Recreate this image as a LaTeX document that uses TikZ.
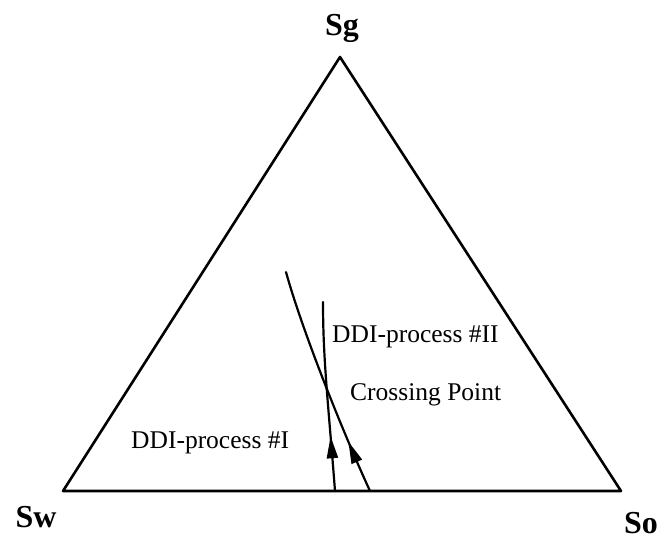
\documentclass[tikz,border=0pt]{standalone}
\usepackage{fontspec}
\setmainfont{Liberation Serif}
\usetikzlibrary{arrows.meta,decorations.markings}
\begin{document}
\begin{tikzpicture}[x=1pt,y=-1pt,line cap=round,line join=round]
    \tikzstyle{corner}=[font=\fontsize{32}{36}\selectfont\bfseries,anchor=base]
    \tikzstyle{label}=[font=\fontsize{25.5}{30}\selectfont,anchor=base west,inner sep=0pt]
    \tikzstyle{process}=[line width=2.2pt,postaction={decorate}]
    \useasboundingbox (0,0) rectangle (661,539);

    % triangle
    \coordinate (Sw) at (63,491);
    \coordinate (So) at (621,491);
    \coordinate (Sg) at (340,57);
    \draw[line width=2.6pt] (Sw) -- (So) -- (Sg) -- cycle;
    \node[corner] (Sg-l) at (342,35) {Sg};
    \node[corner] (Sw-l) at (36,527) {Sw};
    \node[corner] (So-l) at (641,533) {So};

    % the two process paths
    \coordinate (A-0) at (335,491);
    \coordinate (A-1) at (323,302);
    \coordinate (B-0) at (370,491);
    \coordinate (B-1) at (286,272);
    \draw[process,decoration={markings,mark=at position 0.29 with {\arrow{Triangle[length=22pt,width=11pt]}}}]
        (A-0) .. controls (328,400) and (323,360) .. (A-1);
    \draw[process,decoration={markings,mark=at position 0.23 with {\arrow{Triangle[length=22pt,width=11pt]}}}]
        (B-0) .. controls (342,430) and (302,330) .. (B-1);

    \node[label] (ddi-2) at (332,342) {DDI-process \#II};
    \node[label] (cross) at (350,400) {Crossing Point};
    \node[label] (ddi-1) at (131,448) {DDI-process \#I};
\end{tikzpicture}
\end{document}
